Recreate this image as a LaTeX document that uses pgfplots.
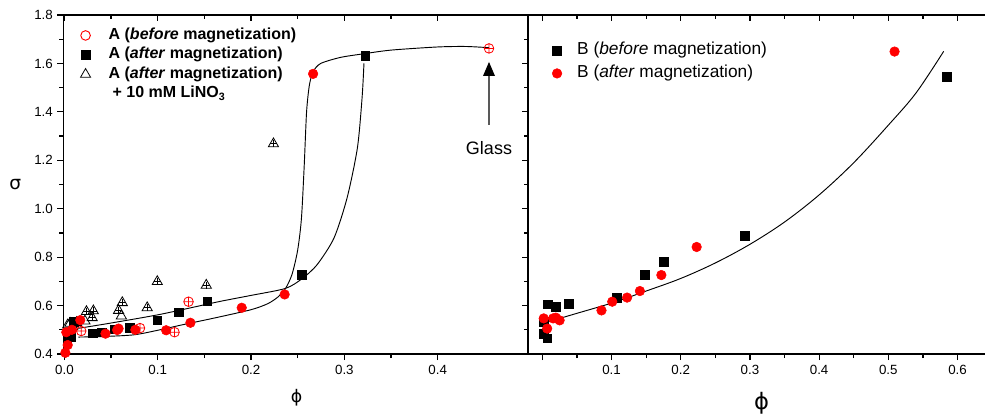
\documentclass[border=0pt]{standalone}
\usepackage{fontspec}
\setmainfont{Liberation Sans}
\newfontfamily\greekfont{DejaVu Sans}
\usepackage{pgfplots}
\pgfplotsset{compat=1.18}

\pgfplotsset{
  common/.style={
    scale only axis, anchor=south west, height=254.25pt,
    ymin=0.4, ymax=1.8, clip=false,
    tick align=outside,
    major tick length=4.5pt, minor tick length=3pt,
    tick style={black, line width=0.9pt},
    axis line style={black, line width=1.2pt},
    tick label style={font=\fontsize{10}{12}\selectfont},
    /pgf/number format/.cd, fixed, fixed zerofill, precision=1, assume math mode=true,
  },
  leftdims/.style={at={(47.625pt,45.75pt)}, width=348.375pt, xmin=-0.001, xmax=0.4968},
  rightdims/.style={at={(396pt,45.75pt)}, width=342.75pt, xmin=-0.0207, xmax=0.6397},
}

\begin{document}
\begin{tikzpicture}
\useasboundingbox (0,0) rectangle (738.75pt,311.25pt);

% ---------------- left panel ----------------
\begin{axis}[common, leftdims,
  xtick={0,0.1,0.2,0.3,0.4}, minor x tick num=1,
  ytick={0.4,0.6,...,1.8}, minor y tick num=1,
  xtick pos=bottom, ytick pos=left,
  xlabel={\greekfont ϕ}, ylabel={\greekfont σ},
  xlabel style={at={(axis description cs:0.502,-0.13)}, anchor=center, font=\fontsize{13}{15}\selectfont},
  ylabel style={at={(axis description cs:-0.104,0.5)}, anchor=center, rotate=-90, font=\fontsize{14}{16}\selectfont},
  legend cell align=left,
  legend image code/.code={\draw[#1] plot coordinates {(0pt,0pt)};},
  legend style={draw=none, fill=none, at={(axis description cs:0.036,0.966)}, anchor=north west,
    inner xsep=0pt, inner ysep=0pt, row sep=1.6pt, column sep=0pt,
    font=\fontsize{12}{14}\selectfont\bfseries,
    nodes={inner sep=0.5pt, text height=9pt, text depth=3pt},
    /tikz/every odd column/.append style={column sep=13pt}},
]
\addlegendimage{only marks, mark=o, red, mark size=3.6pt, mark options={line width=0.7pt}}
\addlegendentry{A (\textit{before} magnetization)}
\addlegendimage{only marks, mark=square*, black, mark size=3.3pt}
\addlegendentry{A (\textit{after} magnetization)}
\addlegendimage{only marks, mark=triangle, black, mark size=4.4pt, mark options={line width=0.6pt}}
\addlegendentry{A (\textit{after} magnetization)}
\addlegendimage{empty legend}
\addlegendentry{\hspace{3pt}+ 10 mM LiNO\textsubscript{3}}

% fitted curves
\addplot[black, line width=0.7pt, smooth, tension=0.45, forget plot] coordinates {
 (0.015,0.470) (0.04,0.472) (0.074,0.479) (0.10,0.498) (0.128,0.522) (0.16,0.548)
 (0.20,0.583) (0.218,0.608) (0.229,0.636) (0.237,0.671) (0.244,0.73) (0.250,0.83)
 (0.254,0.96) (0.2570,1.18) (0.2595,1.40) (0.2625,1.51) (0.2665,1.566)
 (0.2747,1.600) (0.296,1.625) (0.321,1.640) (0.35,1.655) (0.40,1.668) (0.43,1.670) (0.455,1.665)};
\addplot[black, line width=0.7pt, smooth, tension=0.45, forget plot] coordinates {
 (0.015,0.506) (0.05,0.528) (0.103,0.564) (0.164,0.615) (0.20,0.642) (0.237,0.671)
 (0.255,0.712) (0.271,0.770) (0.289,0.880) (0.303,1.046) (0.314,1.252) (0.319,1.459) (0.321,1.60)};

% A after + LiNO3 (triangles with cross)
\addplot[only marks, mark=triangle, black, mark size=4.4pt, mark options={line width=0.6pt}, forget plot] coordinates {
 (0.0035,0.520) (0.006,0.527) (0.009,0.512) (0.013,0.530) (0.022,0.536) (0.0236,0.575)
 (0.031,0.578) (0.0297,0.550) (0.058,0.580) (0.061,0.557) (0.062,0.612) (0.0887,0.591)
 (0.0995,0.699) (0.152,0.684) (0.224,1.268)};
\addplot[only marks, mark=+, black, mark size=2.6pt, mark options={line width=0.5pt}, forget plot] coordinates {
 (0.0236,0.575) (0.031,0.578) (0.0297,0.550) (0.058,0.580) (0.062,0.612) (0.0887,0.591)
 (0.0995,0.699) (0.152,0.684) (0.224,1.268)};
% A after (squares)
\addplot[only marks, mark=square*, black, mark size=3.3pt, forget plot] coordinates {
 (0.003,0.465) (0.007,0.470) (0.010,0.533) (0.004,0.490) (0.030,0.486) (0.040,0.490)
 (0.054,0.502) (0.070,0.509) (0.0995,0.539) (0.1227,0.572) (0.153,0.618) (0.254,0.726) (0.3225,1.631)};
% A before (red)
\addplot[only marks, mark=*, red, mark size=3.6pt, forget plot] coordinates {
 (0.001,0.405) (0.0035,0.437) (0.002,0.490) (0.008,0.500) (0.017,0.540) (0.044,0.484)
 (0.0565,0.499) (0.058,0.505) (0.076,0.500) (0.109,0.498) (0.135,0.529) (0.19,0.591)
 (0.236,0.646) (0.2665,1.557)};
\addplot[only marks, mark=oplus, red, mark size=3.6pt, mark options={line width=0.6pt}, forget plot] coordinates {
 (0.018,0.495) (0.081,0.507) (0.118,0.490) (0.133,0.616) (0.455,1.662)};

% Glass annotation
\draw[gray!70!black, line width=1.3pt] (axis cs:0.455,1.346) -- (axis cs:0.455,1.56);
\fill[black] (axis cs:0.455,1.606) -- ++(-4.5pt,-10.5pt) -- ++(9pt,0pt) -- cycle;
\node[font=\fontsize{13.5}{15}\selectfont] at (axis cs:0.455,1.251) {Glass};
\end{axis}

% top ticks of left panel
\begin{axis}[common, leftdims, axis x line*=top, axis y line=none,
  xtick={0,0.1,0.2,0.3,0.4}, minor x tick num=1, xticklabels={}, tick align=inside]
\end{axis}

% ---------------- right panel ----------------
\begin{axis}[common, rightdims, axis y line*=left,
  xtick={0,0.1,0.2,0.3,0.4,0.5,0.6}, minor x tick num=1,
  xticklabels={,0.1,0.2,0.3,0.4,0.5,0.6},
  ytick={0.4,0.6,...,1.8}, minor y tick num=1, yticklabels={},
  xtick pos=bottom,
  xlabel={\greekfont ϕ},
  xlabel style={at={(axis description cs:0.511,-0.144)}, anchor=center, font=\fontsize{17}{19}\selectfont},
  legend cell align=left,
  legend image code/.code={\draw[#1] plot coordinates {(0pt,0pt)};},
  legend style={draw=none, fill=none, at={(axis description cs:0.0525,0.923)}, anchor=north west,
    inner xsep=0pt, inner ysep=0pt, row sep=3.5pt, column sep=0pt,
    font=\fontsize{13}{15}\selectfont,
    nodes={inner sep=0.5pt, text height=9.5pt, text depth=3.2pt},
    /tikz/every odd column/.append style={column sep=11pt}},
]
\addlegendimage{only marks, mark=square*, black, mark size=3.3pt}
\addlegendentry{B (\textit{before} magnetization)}
\addlegendimage{only marks, mark=*, red, mark size=3.6pt}
\addlegendentry{B (\textit{after} magnetization)}

\addplot[black, line width=0.7pt, smooth, tension=0.55, forget plot] coordinates {
 (0.0084,0.533) (0.05,0.568) (0.102,0.612) (0.15,0.660) (0.20,0.712) (0.25,0.776)
 (0.30,0.853) (0.35,0.945) (0.40,1.057) (0.45,1.190) (0.50,1.345) (0.54,1.478) (0.58,1.650)};
\addplot[only marks, mark=square*, black, mark size=3.3pt, forget plot] coordinates {
 (0.0084,0.605) (0.0195,0.594) (0.0387,0.608) (0.002,0.484) (0.007,0.465) (0.002,0.533)
 (0.107,0.633) (0.148,0.726) (0.1755,0.780) (0.293,0.888) (0.584,1.546)};
\addplot[only marks, mark=*, red, mark size=3.6pt, forget plot] coordinates {
 (0.002,0.547) (0.007,0.505) (0.0156,0.547) (0.0195,0.550) (0.025,0.539) (0.0855,0.580)
 (0.101,0.616) (0.1225,0.633) (0.141,0.660) (0.172,0.726) (0.223,0.842) (0.509,1.649)};
\end{axis}

% top ticks of right panel
\begin{axis}[common, rightdims, axis x line*=top, axis y line=none,
  xtick={0,0.1,0.2,0.3,0.4,0.5,0.6}, minor x tick num=1, xticklabels={}, tick align=inside]
\end{axis}
\end{tikzpicture}
\end{document}
